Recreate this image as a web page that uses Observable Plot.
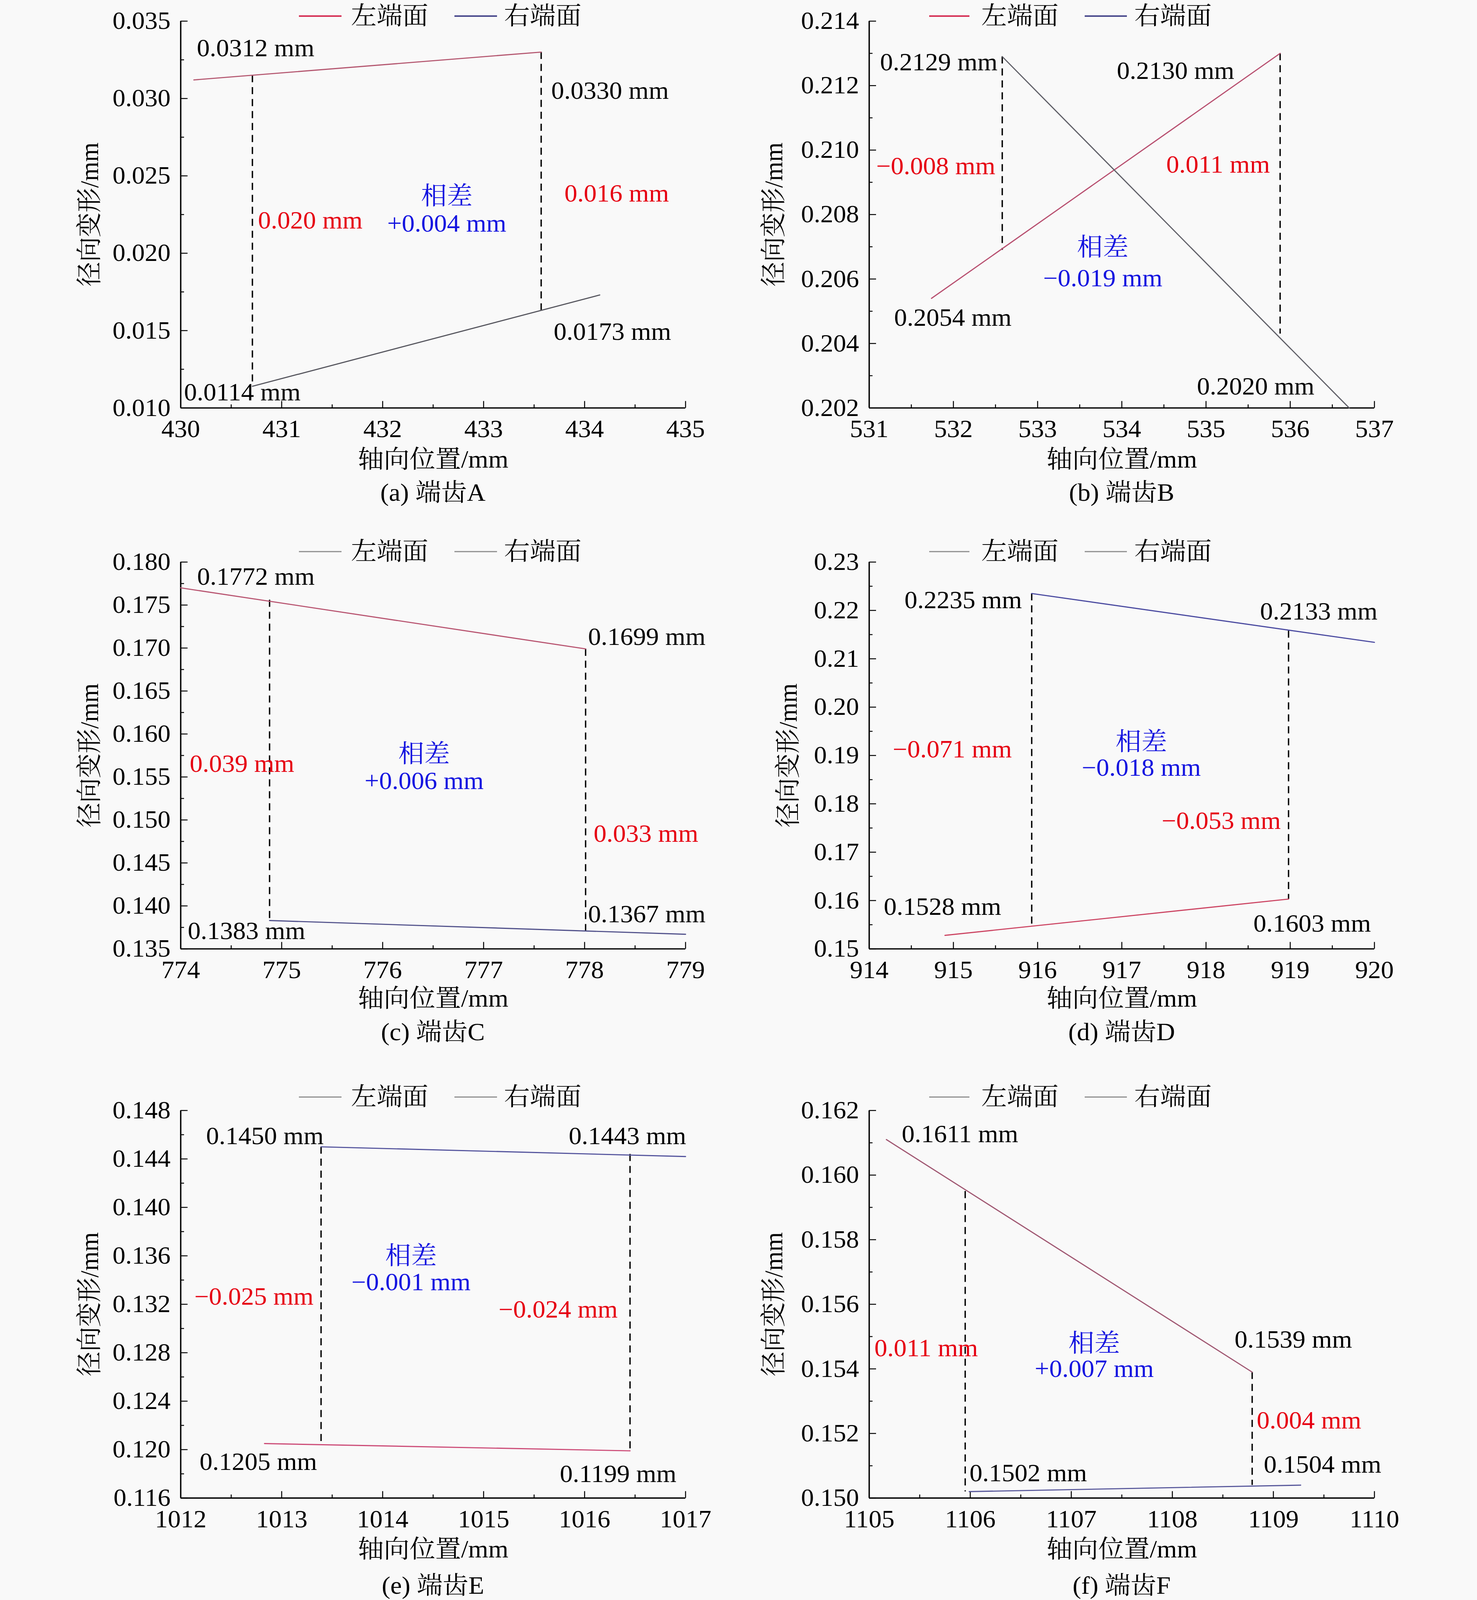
<!DOCTYPE html>
<html>
<head>
<meta charset="utf-8">
<script src="https://cdn.jsdelivr.net/npm/d3@7"></script>
<script src="https://cdn.jsdelivr.net/npm/@observablehq/plot@0.6"></script>
<style>
html, body { margin: 0; padding: 0; background: #f9f9f9; overflow: hidden; }
#fig { position: relative; width: 3780px; height: 4277px; overflow: hidden; transform-origin: 0 0;
  font-family: "Liberation Serif", "Times New Roman", "Noto Serif CJK SC", "Noto Sans CJK SC", serif; color: #000; }
.abs { position: absolute; white-space: nowrap; line-height: 1; font-size: 66px; }
</style>
</head>
<body>
<div id="fig"></div>
<script>
// ---------------- data ----------------
const panelCaptions = ["(a) 端齿A", "(b) 端齿B", "(c) 端齿C", "(d) 端齿D", "(e) 端齿E", "(f) 端齿F"];
const seriesNames = ["左端面", "右端面"];
const xAxisLabel = "轴向位置/mm";
const yAxisLabel = "径向变形/mm";

const xTickLabels = [
  ["430", "431", "432", "433", "434", "435"],
  ["531", "532", "533", "534", "535", "536", "537"],
  ["774", "775", "776", "777", "778", "779"],
  ["914", "915", "916", "917", "918", "919", "920"],
  ["1012", "1013", "1014", "1015", "1016", "1017"],
  ["1105", "1106", "1107", "1108", "1109", "1110"]
];
const yTickLabels = [
  ["0.010", "0.015", "0.020", "0.025", "0.030", "0.035"],
  ["0.202", "0.204", "0.206", "0.208", "0.210", "0.212", "0.214"],
  ["0.135", "0.140", "0.145", "0.150", "0.155", "0.160", "0.165", "0.170", "0.175", "0.180"],
  ["0.15", "0.16", "0.17", "0.18", "0.19", "0.20", "0.21", "0.22", "0.23"],
  ["0.116", "0.120", "0.124", "0.128", "0.132", "0.136", "0.140", "0.144", "0.148"],
  ["0.150", "0.152", "0.154", "0.156", "0.158", "0.160", "0.162"]
];

// 左端面 line endpoints
const leftFaceX = [[430.13, 433.57], [531.74, 535.88], [774.00, 778.01], [914.90, 918.98], [1012.83, 1016.45], [1105.17, 1108.79]];
const leftFaceY = [[0.0312, 0.0330], [0.2054, 0.2130], [0.1770, 0.1699], [0.1528, 0.1603], [0.1205, 0.1199], [0.1611, 0.1539]];
// 右端面 line endpoints
const rightFaceX = [[430.71, 434.15], [532.58, 536.70], [774.88, 779.00], [915.93, 920.00], [1013.39, 1017.00], [1105.99, 1109.27]];
const rightFaceY = [[0.0114, 0.0173], [0.2129, 0.2020], [0.1383, 0.1367], [0.2235, 0.2134], [0.1450, 0.1442], [0.1502, 0.1504]];
// dashed guide lines
const guideX = [[430.71, 433.57], [532.58, 535.88], [774.88, 778.01], [915.93, 918.98], [1013.39, 1016.45], [1105.95, 1108.79]];
const guideTop = [[0.0315, 0.0330], [0.2129, 0.2130], [0.1756, 0.1699], [0.2235, 0.2158], [0.1450, 0.1444], [0.1595, 0.1539]];
const guideBottom = [[0.0114, 0.0162], [0.2069, 0.2043], [0.1383, 0.1371], [0.1545, 0.1603], [0.1204, 0.1199], [0.1502, 0.1504]];

// annotations: [text, x, y, kind]  kind: v = value, d = difference, t = 相差
const annotations = [
  [["0.0312 mm", 430.16, 0.03323, "v"], ["0.0330 mm", 433.67, 0.03049, "v"], ["0.020 mm", 430.765, 0.02211, "d"],
   ["相差", 432.635, 0.02367, "t"], ["+0.004 mm", 432.635, 0.02190, "t"], ["0.016 mm", 433.80, 0.02384, "d"],
   ["0.0173 mm", 433.694, 0.01492, "v"], ["0.0114 mm", 430.033, 0.01099, "v"]],
  [["0.2129 mm", 531.129, 0.21272, "v"], ["0.2130 mm", 533.941, 0.21245, "v"], ["−0.008 mm", 531.084, 0.20950, "d"],
   ["0.011 mm", 534.528, 0.20955, "d"], ["相差", 533.774, 0.20698, "t"], ["−0.019 mm", 533.774, 0.20602, "t"],
   ["0.2054 mm", 531.296, 0.20479, "v"], ["0.2020 mm", 534.892, 0.20266, "v"]],
  [["0.1772 mm", 774.163, 0.17827, "v"], ["0.1699 mm", 778.034, 0.17127, "v"], ["0.039 mm", 774.089, 0.15653, "d"],
   ["相差", 776.411, 0.15766, "t"], ["+0.006 mm", 776.411, 0.15452, "t"], ["0.033 mm", 778.090, 0.14840, "d"],
   ["0.1367 mm", 778.034, 0.13902, "v"], ["0.1383 mm", 774.07, 0.13705, "v"]],
  [["0.2235 mm", 914.419, 0.22213, "v"], ["0.2133 mm", 918.641, 0.21977, "v"], ["−0.071 mm", 914.280, 0.19122, "d"],
   ["相差", 917.232, 0.19279, "t"], ["−0.018 mm", 917.232, 0.18742, "t"], ["−0.053 mm", 917.473, 0.17648, "d"],
   ["0.1528 mm", 914.173, 0.15866, "v"], ["0.1603 mm", 918.563, 0.15522, "v"]],
  [["0.1450 mm", 1012.252, 0.14589, "v"], ["0.1443 mm", 1015.843, 0.14589, "v"], ["相差", 1014.281, 0.13596, "t"],
   ["−0.001 mm", 1014.281, 0.13380, "t"], ["−0.025 mm", 1012.135, 0.13262, "d"], ["−0.024 mm", 1015.148, 0.13155, "d"],
   ["0.1205 mm", 1012.187, 0.11898, "v"], ["0.1199 mm", 1015.755, 0.11797, "v"]],
  [["0.1611 mm", 1105.322, 0.16126, "v"], ["0.1539 mm", 1108.616, 0.15490, "v"], ["0.011 mm", 1105.051, 0.15464, "d"],
   ["相差", 1107.227, 0.15478, "t"], ["+0.007 mm", 1107.227, 0.15399, "t"], ["0.004 mm", 1108.835, 0.15240, "d"],
   ["0.1502 mm", 1105.993, 0.15077, "v"], ["0.1504 mm", 1108.905, 0.15103, "v"]]
];

// ---------------- layout & style ----------------
const layout = {
  pageW: 3780, pageH: 4277,
  colLeft: [0, 1890], svgWidth: 1890,
  marginLeft: [462, 334], marginRight: [136, 263],
  rowTop: [0, 1446, 2912], marginTop: 56, plotHeight: [1034, 1034, 1036], marginBottom: 200,
  legendY: [43, 1474, 2932], captionY: [1317, 2759, 4238], xLabelDy: [138, 133, 138],
  yLabelDx: [233, 244, 233, 207, 233, 244],
  legendX: [[765, 874, 898, 1163, 1272, 1290], [2378, 2481, 2511, 2776, 2884, 2903]]
};
const FONT = '"Liberation Serif", "Times New Roman", "Noto Serif CJK SC", "Noto Sans CJK SC", serif';
const FS = 66;
const leftStroke = ["#b4566f", "#b85070", "#b85470", "#cc4462", "#cc4a76", "#a05872"];
const rightStroke = ["#56565e", "#606068", "#50508a", "#4a4aa0", "#52529c", "#56569a"];
const legendStroke = [["#d42a50", "#45458a"], ["#d42a50", "#45458a"], ["#8c8c8c", "#8c8c8c"], ["#8c8c8c", "#8c8c8c"], ["#8c8c8c", "#8c8c8c"], ["#8c8c8c", "#8c8c8c"]];
const kindColor = { v: "#000000", d: "#e60012", t: "#1414e0" };

const fig = document.getElementById("fig");
const mid = a => a.slice(1).map((v, j) => (v + a[j]) / 2);

function addDiv(cls, css, text) {
  const d = document.createElement("div");
  d.className = cls;
  Object.assign(d.style, css);
  if (text != null) d.textContent = text;
  fig.appendChild(d);
  return d;
}

for (let p = 0; p < 6; p++) {
  const col = p % 2, row = Math.floor(p / 2);
  const xt = xTickLabels[p].map(Number);
  const yt = yTickLabels[p].map(Number);
  const xFmt = new Map(xt.map((v, j) => [v, xTickLabels[p][j]]));
  const yFmt = new Map(yt.map((v, j) => [v, yTickLabels[p][j]]));
  const leftLine = leftFaceX[p].map((x, j) => ({ x, y: leftFaceY[p][j] }));
  const rightLine = rightFaceX[p].map((x, j) => ({ x, y: rightFaceY[p][j] }));
  const guides = guideX[p].map((x, j) => ({ x, y1: guideTop[p][j], y2: guideBottom[p][j] }));
  const ann = annotations[p].map(([text, x, y, kind]) => ({ text, x, y, kind }));
  const plotH = layout.plotHeight[row];
  const svgH = layout.marginTop + plotH + layout.marginBottom;
  const tickLen = 18, minorLen = 9;

  const svg = Plot.plot({
    width: layout.svgWidth,
    height: svgH,
    marginTop: layout.marginTop,
    marginBottom: layout.marginBottom,
    marginLeft: layout.marginLeft[col],
    marginRight: layout.marginRight[col],
    x: { domain: [xt[0], xt[xt.length - 1]] },
    y: { domain: [yt[0], yt[yt.length - 1]] },
    style: { background: "transparent", fontFamily: FONT, fontSize: FS + "px", overflow: "visible", maxWidth: "none" },
    marks: [
      // tick labels
      Plot.axisX({ ticks: xt, tickSize: 0, tickPadding: 31, tickFormat: d => xFmt.get(d), fontSize: FS, label: null, fill: "#000" }),
      Plot.axisY({ ticks: yt, tickSize: 0, tickPadding: 26, tickFormat: d => yFmt.get(d), fontSize: FS, label: null, fill: "#000" }),
      // inward major / minor ticks
      Plot.axisX({ ticks: xt, tickSize: tickLen, dy: -tickLen, fill: "none", label: null, stroke: "#000", strokeWidth: 2.5 }),
      Plot.axisX({ ticks: mid(xt), tickSize: minorLen, dy: -minorLen, fill: "none", label: null, stroke: "#000", strokeWidth: 2.5 }),
      Plot.axisY({ ticks: yt, tickSize: tickLen, dx: tickLen, fill: "none", label: null, stroke: "#000", strokeWidth: 2.5 }),
      Plot.axisY({ ticks: mid(yt), tickSize: minorLen, dx: minorLen, fill: "none", label: null, stroke: "#000", strokeWidth: 2.5 }),
      // axis lines
      Plot.ruleX([xt[0]], { stroke: "#000", strokeWidth: 3.5 }),
      Plot.ruleY([yt[0]], { stroke: "#000", strokeWidth: 3.5 }),
      // dashed guides
      Plot.ruleX(guides, { x: "x", y1: "y1", y2: "y2", stroke: "#000", strokeWidth: 3.5, strokeDasharray: "19,13" }),
      // face lines
      Plot.line(leftLine, { x: "x", y: "y", stroke: leftStroke[p], strokeWidth: 3 }),
      Plot.line(rightLine, { x: "x", y: "y", stroke: rightStroke[p], strokeWidth: 3 }),
      // annotations
      Plot.text(ann.filter(d => d.kind !== "t"), { x: "x", y: "y", text: "text", fill: d => kindColor[d.kind], textAnchor: "start", lineAnchor: "middle", fontSize: FS }),
      Plot.text(ann.filter(d => d.kind === "t"), { x: "x", y: "y", text: "text", fill: d => kindColor[d.kind], textAnchor: "middle", lineAnchor: "middle", fontSize: FS }),
      // axis titles
      Plot.text([xAxisLabel], { text: d => d, frameAnchor: "bottom", dy: layout.xLabelDy[row], textAnchor: "middle", lineAnchor: "middle", fontSize: FS, fill: "#000" }),
      Plot.text([yAxisLabel], { text: d => d, frameAnchor: "left", dx: -layout.yLabelDx[p], rotate: -90, textAnchor: "middle", lineAnchor: "middle", fontSize: FS, fill: "#000" })
    ]
  });
  svg.style.position = "absolute";
  svg.style.left = layout.colLeft[col] + "px";
  svg.style.top = layout.rowTop[row] + "px";
  fig.appendChild(svg);

  // legend
  const lx = layout.legendX[col], ly = layout.legendY[row];
  const swH = p < 2 ? 4 : 3;
  addDiv("abs", { left: lx[0] + "px", top: (ly - swH / 2) + "px", width: (lx[1] - lx[0]) + "px", height: swH + "px", background: legendStroke[p][0] });
  addDiv("abs", { left: lx[2] + "px", top: ly + "px", transform: "translateY(-50%)" }, seriesNames[0]);
  addDiv("abs", { left: lx[3] + "px", top: (ly - swH / 2) + "px", width: (lx[4] - lx[3]) + "px", height: swH + "px", background: legendStroke[p][1] });
  addDiv("abs", { left: lx[5] + "px", top: ly + "px", transform: "translateY(-50%)" }, seriesNames[1]);

  // caption
  const cx = layout.colLeft[col] + layout.marginLeft[col] + (layout.svgWidth - layout.marginLeft[col] - layout.marginRight[col]) / 2;
  addDiv("abs", { left: cx + "px", top: layout.captionY[row] + "px", transform: "translate(-50%, -50%)" }, panelCaptions[p]);
}

// fit the figure into the visible viewport if the viewport is shorter/narrower than the page
function fitFigure() {
  const vw = Math.min(window.innerWidth || layout.pageW, document.documentElement.clientWidth || layout.pageW);
  const vh = Math.min(window.innerHeight || layout.pageH, document.documentElement.clientHeight || layout.pageH);
  const sx = Math.min(1, vw / layout.pageW), sy = Math.min(1, vh / layout.pageH);
  fig.style.transform = (sx < 1 || sy < 1) ? `scale(${sx}, ${sy})` : "none";
}
fitFigure();
window.addEventListener("resize", fitFigure);
</script>
</body>
</html>
